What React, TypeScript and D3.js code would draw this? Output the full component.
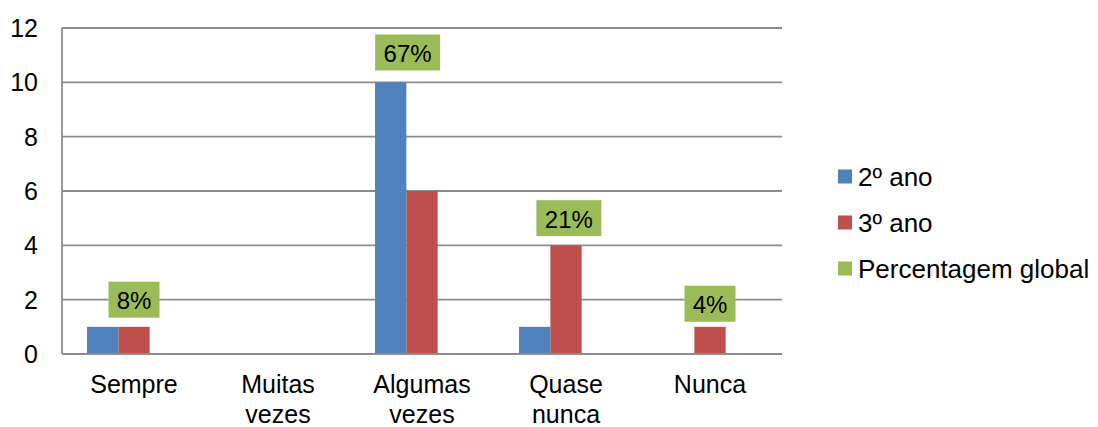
import * as d3 from 'd3'

const categories = [['Sempre'], ['Muitas', 'vezes'], ['Algumas', 'vezes'], ['Quase', 'nunca'], ['Nunca']]
const ano2 = [1, 0, 10, 1, 0]
const ano3 = [1, 0, 6, 4, 1]
const globalPct = [8, 0, 67, 21, 4]
// where the percentage labels sit (value level and shift within the category)
const labelLevel = [2.0, 0, 11.1, 5.0, 1.85]
const labelShift = [0, 0, -0.1, 0.02, 0]
const yTicks = [0, 2, 4, 6, 8, 10, 12]
const seriesNames = ['2º ano', '3º ano', 'Percentagem global']
const colors = ['#4F81BD', '#C0504D', '#9BBB59']

const W = 1098
const H = 427
const left = 62
const right = 782
const top = 28
const bottom = 354
const font = 'Arial, "Liberation Sans", sans-serif'

export default function App() {
  const x0 = d3.scaleBand<number>().domain(d3.range(categories.length)).range([left, right])
  const bw = x0.bandwidth()
  const gap = bw * 0.174
  const x1 = d3.scaleBand<number>().domain([0, 1, 2]).range([gap, bw - gap])
  const y = d3.scaleLinear().domain([0, 12]).range([bottom, top])

  const series = [ano2, ano3]

  return (
    <svg width={W} height={H} style={{ position: 'absolute', left: 0, top: 0, background: '#fff' }} fontFamily={font}>
      {/* gridlines */}
      {yTicks.map(t => (
        <line key={t} x1={left} x2={right} y1={y(t)} y2={y(t)} stroke="#8c8c8c" strokeWidth={1.8} />
      ))}
      <line x1={left} x2={left} y1={top} y2={bottom} stroke="#8c8c8c" strokeWidth={1.8} />
      {yTicks.map(t => (
        <text key={'t' + t} x={38} y={y(t)} textAnchor="end" dominantBaseline="central" fontSize={25} fill="#000">
          {t}
        </text>
      ))}
      {/* bars */}
      {series.map((vals, si) =>
        vals.map((v, i) =>
          v > 0 ? (
            <rect
              key={si + '-' + i}
              x={(x0(i) || 0) + (x1(si) || 0)}
              y={y(v)}
              width={x1.bandwidth()}
              height={y(0) - y(v)}
              fill={colors[si]}
            />
          ) : null
        )
      )}
      <line x1={left} x2={right} y1={y(0)} y2={y(0)} stroke="#8c8c8c" strokeWidth={1.8} />
      {/* percentage labels */}
      {globalPct.map((p, i) => {
        if (!p) return null
        const label = p + '%'
        const cx = (x0(i) || 0) + bw / 2 + labelShift[i] * bw
        const cy = y(labelLevel[i])
        const tw = label.length === 2 ? 34 : 48
        const bwid = tw + 17
        return (
          <g key={'l' + i}>
            <rect x={cx - bwid / 2} y={cy - 18} width={bwid} height={36} fill={colors[2]} />
            <text x={cx} y={cy + 1} textAnchor="middle" dominantBaseline="central" fontSize={24} fill="#000">
              {label}
            </text>
          </g>
        )
      })}
      {/* category labels */}
      {categories.map((lines, i) =>
        lines.map((ln, k) => (
          <text
            key={'c' + i + '-' + k}
            x={(x0(i) || 0) + bw / 2}
            y={393 + k * 29.5}
            textAnchor="middle"
            fontSize={25}
            fill="#000"
          >
            {ln}
          </text>
        ))
      )}
      {/* legend */}
      {seriesNames.map((n, i) => {
        const cy = 176.5 + i * 46
        return (
          <g key={'lg' + i}>
            <rect x={838} y={cy - 7} width={14} height={14} fill={colors[i]} />
            <text x={858} y={cy} dominantBaseline="central" fontSize={26} fill="#000">
              {n}
            </text>
          </g>
        )
      })}
    </svg>
  )
}
